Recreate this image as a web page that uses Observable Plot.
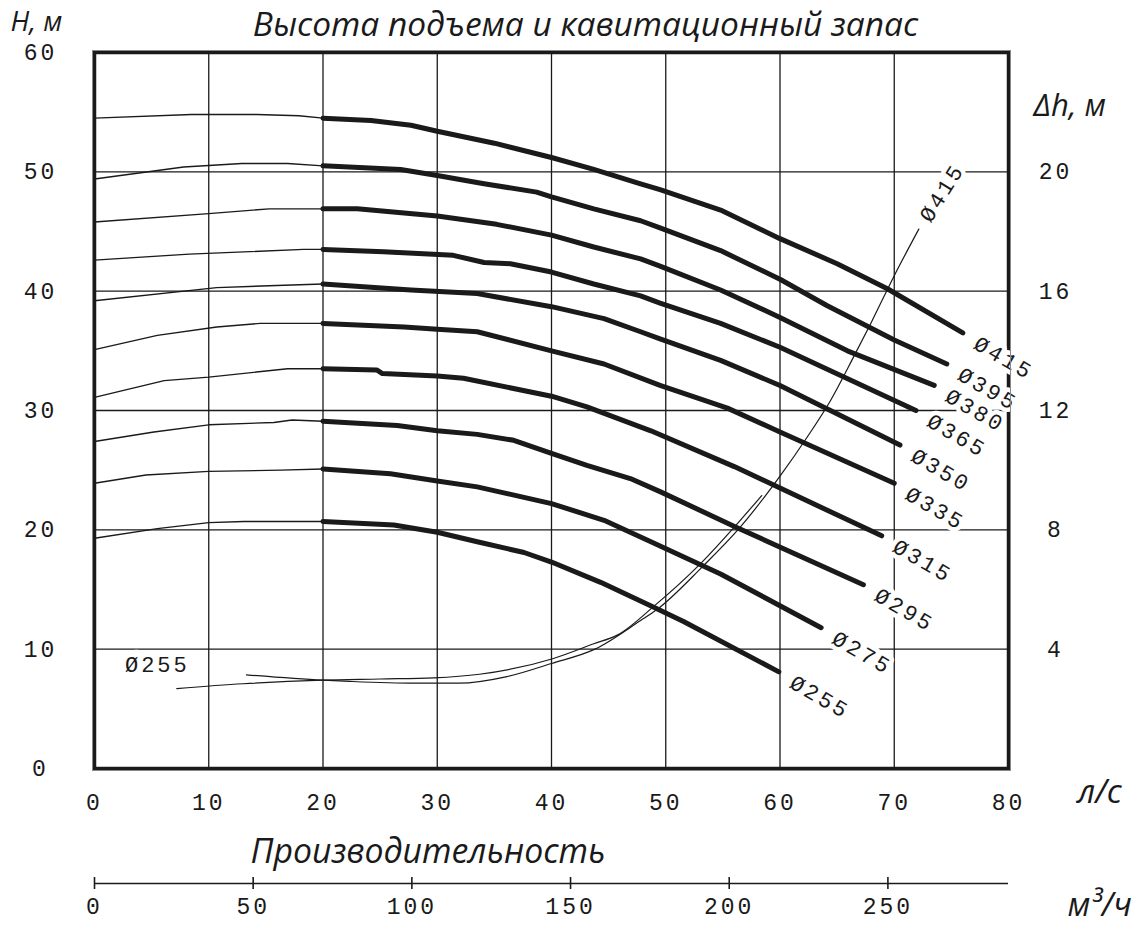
<!DOCTYPE html>
<html><head><meta charset="utf-8">
<script src="https://cdn.jsdelivr.net/npm/d3@7"></script>
<script src="https://cdn.jsdelivr.net/npm/@observablehq/plot@0.6"></script>
<style>
body{margin:0;background:#fff}
</style></head><body><div id="chart"></div><script>
// Impeller diameters (mm)
const diameters = [415, 395, 380, 365, 350, 335, 315, 295, 275, 255];
// Head curves: Q (l/s) and H (m)
const q415 = [0, 8.5, 14.2, 17.9, 20, 24.2, 27.7, 30, 35, 40, 43.7, 47.8, 49.5, 54.8, 60, 65, 69.4, 76];
const h415 = [54.5, 54.8, 54.8, 54.7, 54.5, 54.3, 53.9, 53.4, 52.4, 51.2, 50.2, 49.0, 48.5, 46.8, 44.4, 42.3, 40.2, 36.5];
const q395 = [0, 7.8, 12.9, 16.9, 20, 26.8, 30, 34.1, 38.7, 40, 43.7, 47.8, 49.5, 54.8, 60, 64.1, 70, 74.6];
const h395 = [49.4, 50.4, 50.7, 50.7, 50.5, 50.2, 49.7, 49.0, 48.3, 47.9, 46.9, 45.9, 45.3, 43.4, 41.0, 38.8, 35.9, 33.9];
const q380 = [0, 10, 15.3, 20, 23, 30, 35.2, 40, 43.7, 47.8, 49.5, 54.8, 60, 65.9, 73.5];
const h380 = [45.8, 46.5, 46.9, 46.9, 46.9, 46.3, 45.6, 44.7, 43.7, 42.7, 42.1, 40.1, 37.8, 35.0, 32.1];
const q365 = [0, 8.3, 18.3, 20, 25.3, 31.4, 34.1, 36.4, 40, 43.7, 47.8, 49.5, 54.8, 60, 64.7, 71.9];
const h365 = [42.6, 43.1, 43.5, 43.5, 43.3, 43.0, 42.4, 42.3, 41.6, 40.6, 39.6, 39.0, 37.3, 35.3, 33.2, 30.0];
const q350 = [0, 10.7, 16.6, 20, 27.7, 33.5, 40, 44.6, 47.8, 49.5, 54.8, 60, 70.5];
const h350 = [39.2, 40.3, 40.5, 40.6, 40.1, 39.8, 38.7, 37.7, 36.6, 36.0, 34.2, 32.1, 27.1];
const q335 = [0, 5.5, 10.7, 14.5, 20, 27.1, 30, 33.5, 40, 44.6, 49.5, 55.4, 60, 70];
const h335 = [35.1, 36.3, 37.0, 37.3, 37.3, 37.0, 36.8, 36.6, 35.0, 33.9, 32.1, 30.2, 28.2, 23.9];
const q315 = [0, 6.1, 10, 16.9, 20, 24.7, 25.2, 30, 32.3, 40, 43.1, 48.7, 56, 68.9];
const h315 = [31.1, 32.5, 32.8, 33.5, 33.5, 33.4, 33.1, 32.9, 32.7, 31.2, 30.3, 28.3, 25.3, 19.5];
const q295 = [0, 5.2, 10, 15.7, 17.3, 20, 26.5, 30, 33.5, 36.7, 40, 43.1, 46.9, 49.5, 56.2, 67.3];
const h295 = [27.4, 28.2, 28.8, 29.0, 29.2, 29.1, 28.75, 28.3, 28.0, 27.5, 26.4, 25.4, 24.3, 23.2, 20.2, 15.4];
const q275 = [0, 4.5, 10, 16.3, 20, 25.9, 30, 33.5, 40, 44.6, 48.7, 54.8, 63.6];
const h275 = [23.9, 24.6, 24.9, 25.0, 25.1, 24.7, 24.1, 23.6, 22.2, 20.8, 19.0, 16.3, 11.8];
const q255 = [0, 5.5, 10, 13.1, 20, 26.2, 30, 33.5, 37.6, 40, 44.3, 49, 51.6, 59.9];
const h255 = [19.3, 20.1, 20.6, 20.7, 20.7, 20.4, 19.8, 19.0, 18.1, 17.3, 15.6, 13.5, 12.3, 8.1];
// Cavitation reserve (NPSH) curves: Q (l/s), Δh (m)
const npshQ255 = [7.2, 13, 20, 25, 29.7, 33.7, 40.1, 43.7, 45.8, 49, 53, 56.25, 58.4];
const npshDh255 = [2.68, 2.84, 2.96, 3.0, 3.04, 3.16, 3.68, 4.18, 4.48, 5.45, 6.85, 8.2, 9.15];
const npshQ415 = [13.3, 20, 22.3, 28, 31.9, 36.1, 40, 43.8, 47.8, 49.2, 53.2, 56.5, 58.6, 60, 62.4, 64.4, 66.5, 68, 70, 72.15];
const npshDh415 = [3.14, 2.96, 2.92, 2.86, 2.86, 3.08, 3.52, 4.0, 4.96, 5.32, 6.76, 8.08, 9.08, 9.8, 11.12, 12.32, 13.84, 14.96, 16.52, 18.08];
// Axis ticks
const qTicks = [0, 10, 20, 30, 40, 50, 60, 70, 80];
const hTicks = [0, 10, 20, 30, 40, 50, 60];
const dhTicks = [4, 8, 12, 16, 20];
const m3hTicks = [0, 50, 100, 150, 200, 250];
const dhPerH = 0.4;      // right axis: Δh = 0.4·H
const m3hPerLs = 3.6;    // m³/h per l/s
const thickFrom = 20;    // working range starts at 20 l/s

const curveQ = [q415, q395, q380, q365, q350, q335, q315, q295, q275, q255];
const curveH = [h415, h395, h380, h365, h350, h335, h315, h295, h275, h255];
const rows = diameters.flatMap((d, i) => curveQ[i].map((q, j) => ({d, q, h: curveH[i][j]})));
const thin = rows.filter(r => r.q <= thickFrom);
const thick = rows.filter(r => r.q >= thickFrom);
const ends = diameters.map((d, i) => ({d, q: curveQ[i].at(-1), h: curveH[i].at(-1)}));
const npsh = [
  ...npshQ255.map((q, j) => ({d: 255, q, h: npshDh255[j] / dhPerH})),
  ...npshQ415.map((q, j) => ({d: 415, q, h: npshDh415[j] / dhPerH}))
];
const npsh255Start = npsh.filter(r => r.d === 255).slice(0, 1);
const npsh415End = npsh.filter(r => r.d === 415).slice(-1);

const ink = "#1a1a1a";
const mono = "Liberation Mono";
const ital = "Open Sans";
const dia = d => "Ø" + d.d;

// label mark pair: white halo underneath, ink text on top
function labels(data, opts, halo) {
  const base = {x: "q", y: "h", text: dia, fontSize: 22, lineAnchor: "middle", ...opts};
  return [
    Plot.text(data, {...base, fill: "white", stroke: "white", strokeWidth: halo}),
    Plot.text(data, {...base, fill: ink})
  ];
}

const chart = Plot.plot({
  width: 1140, height: 926,
  marginTop: 52, marginLeft: 94, marginRight: 132, marginBottom: 158,
  x: {domain: [0, 80]},
  y: {domain: [0, 60]},
  style: {fontFamily: mono, fontSize: "23px", color: ink, background: "white"},
  marks: [
    Plot.gridX([10, 20, 30, 40, 50, 60, 70], {stroke: ink, strokeOpacity: 1, strokeWidth: 1.3}),
    Plot.gridY([10, 20, 30, 40, 50], {stroke: ink, strokeOpacity: 1, strokeWidth: 1.3}),
    Plot.frame({stroke: ink, strokeWidth: 3.5}),
    Plot.line(thin, {x: "q", y: "h", z: "d", stroke: ink, strokeWidth: 1.4}),
    Plot.line(thick, {x: "q", y: "h", z: "d", stroke: ink, strokeWidth: 5, strokeLinecap: "round", strokeLinejoin: "round"}),
    Plot.line(npsh, {x: "q", y: "h", z: "d", stroke: ink, strokeWidth: 1.2, curve: "monotone-x"}),
    ...labels(ends, {rotate: 30, textAnchor: "start", dx: 13, dy: 9}, 9),
    ...labels(npsh415End, {rotate: -58, textAnchor: "start", dx: 6, dy: -9}, 9),
    ...labels(npsh255Start, {textAnchor: "end", dx: 13, dy: -24}, 14),
    Plot.frame({stroke: "#888", strokeWidth: 1, inset: -2}),
    Plot.axisX(qTicks, {tickSize: 0, tickPadding: 34, lineAnchor: "middle", label: null, fontSize: 23}),
    Plot.axisY(hTicks, {anchor: "left", tickSize: 0, tickPadding: 54, textAnchor: "middle", label: null, fontSize: 23}),
    Plot.axisY(dhTicks.map(v => v / dhPerH), {anchor: "right", tickSize: 0, tickPadding: 47, textAnchor: "middle",
      tickFormat: v => Math.round(v * dhPerH), label: null, fontSize: 23}),
    // second flow axis in m³/h
    Plot.ruleY([0], {x1: 0, x2: 80, dy: 115, stroke: ink, strokeWidth: 1.4}),
    Plot.ruleX(m3hTicks, {x: v => v / m3hPerLs, y1: 0, y2: 0, dy: 115, insetTop: -6, insetBottom: -6, stroke: ink, strokeWidth: 1.6}),
    Plot.text(m3hTicks, {x: v => v / m3hPerLs, y: 0, dy: 138, text: v => String(v), lineAnchor: "middle", fontSize: 23}),
    // titles
    Plot.text(["Высота подъема и кавитационный запас"], {frameAnchor: "top", dx: 34, dy: -17, lineAnchor: "bottom",
      fontFamily: ital, fontStyle: "italic", fontSize: 33.5}),
    Plot.text(["H, м"], {frameAnchor: "top-left", textAnchor: "start", dx: -84, dy: -22, lineAnchor: "bottom",
      fontFamily: ital, fontStyle: "italic", fontSize: 27.5}),
    Plot.text(["Δh, м"], {frameAnchor: "top-right", textAnchor: "start", dx: 25, dy: 63, lineAnchor: "bottom",
      fontFamily: ital, fontStyle: "italic", fontSize: 31}),
    Plot.text(["л/с"], {frameAnchor: "bottom-right", textAnchor: "start", dx: 69, dy: 34, lineAnchor: "bottom",
      fontFamily: ital, fontStyle: "italic", fontSize: 33}),
    Plot.text(["Производительность"], {frameAnchor: "bottom-left", textAnchor: "start", dx: 156, dy: 94, lineAnchor: "bottom",
      fontFamily: ital, fontStyle: "italic", fontSize: 33.8}),
    Plot.text(["м³/ч"], {frameAnchor: "bottom-right", textAnchor: "start", dx: 59, dy: 147, lineAnchor: "bottom",
      fontFamily: ital, fontStyle: "italic", fontSize: 33})
  ]
});
// technical-drawing letter spacing for numbers and diameter labels
chart.querySelectorAll("text").forEach(t => {
  const s = t.textContent;
  if (/^Ø/.test(s)) t.style.letterSpacing = "3px";
  else if (/^\d+$/.test(s)) t.style.letterSpacing = "3px";
});
document.getElementById("chart").append(chart);
</script></body></html>
